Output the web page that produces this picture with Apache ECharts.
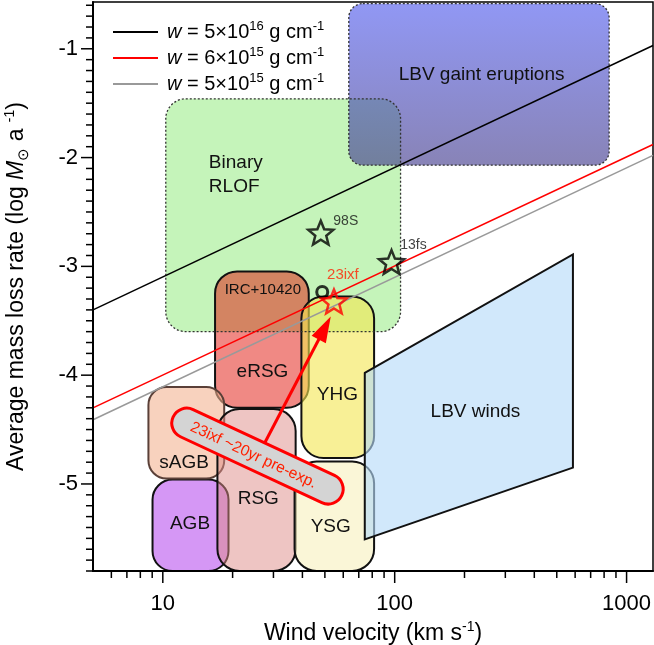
<!DOCTYPE html>
<html><head><meta charset="utf-8">
<script src="https://cdn.jsdelivr.net/npm/echarts@6/dist/echarts.min.js"></script>
<style>html,body{margin:0;padding:0;background:#fff}#c{width:654px;height:645px}</style>
</head><body><div id="c"></div>
<script>
const FONT = '"Liberation Sans", Arial, sans-serif';
const X_MIN = 5, X_MAX = 1300, Y_MIN = -5.8, Y_MAX = -0.57;

// constant-w lines (two endpoints)
const lineNames = ['w5e16', 'w6e15', 'w5e15'];
const lineColors = ['#000000', '#ff0000', '#999999'];
const lineX = [5, 1300];
const lineBlack = [-3.40, -0.97];
const lineRed = [-4.30, -1.88];
const lineGray = [-4.41, -1.98];

// regions: [xLow, xHigh], [yLow, yHigh]
const regionNames = ['Binary RLOF', 'LBV gaint eruptions', 'eRSG', 'YHG', 'AGB', 'sAGB', 'RSG', 'YSG'];
const regionX = [[10.3, 106], [63.4, 841], [16.8, 42.6], [39.6, 81.5], [9.03, 19.2], [8.67, 18.4], [17.2, 37.4], [37.0, 81.5]];
const regionY = [[-3.6, -1.46], [-2.07, -0.585], [-4.30, -3.046], [-4.762, -3.276], [-5.80, -4.96], [-4.95, -4.109], [-5.80, -4.311], [-5.80, -4.793]];

// LBV winds polygon
const lbvWindsX = [74.3, 587, 587, 74.3];
const lbvWindsY = [-3.98, -2.89, -4.85, -5.51];

// region labels
const labelTexts = ['Binary\nRLOF', 'LBV gaint eruptions', 'IRC+10420', 'eRSG', 'YHG', 'LBV winds', 'sAGB', 'AGB', 'RSG', 'YSG'];
const labelX = [15.8, 237, 27, 26.9, 56.6, 223, 12.35, 13.1, 25.8, 53];
const labelY = [-2.157, -1.237, -3.214, -3.966, -4.18, -4.333, -4.808, -5.366, -5.139, -5.39];

// supernova progenitors
const starNames = ['98S', '13fs'];
const starX = [48.0, 96.9];
const starY = [-2.69, -2.96];
const sn23ixf = [54.7, -3.322];
const ircPoint = [48.7, -3.235];
const arrowFrom = [26.9, -4.663];
const arrowTo = [53.0, -3.46];
const noteCenter = [25.6, -4.744];
const noteText = '23ixf ~20yr pre-exp.';

// ticks
const xMajor = [10, 100, 1000];
const xMinor = [6, 7, 8, 9, 20, 30, 40, 50, 60, 70, 80, 90, 200, 300, 400, 500, 600, 700, 800, 900];
const yMajor = [-5, -4, -3, -2, -1];
const yMinor = [];
for (let k = -58; k <= -6; k++) { if (k % 10 !== 0) yMinor.push(k / 10); }

const regionStyles = [
  { fill: 'rgba(150,235,130,0.55)', stroke: null, lw: 0, r: 20 },
  { fill: { type: 'linear', x: 0, y: 0, x2: 0, y2: 1, colorStops: [{ offset: 0, color: 'rgba(77,88,238,0.62)' }, { offset: 1, color: 'rgba(63,55,138,0.62)' }] }, stroke: '#333', dash: [2, 2], lw: 1.3, r: 14 },
  { fill: 'rgba(225,20,10,0.5)', stroke: '#111', lw: 2, r: 22 },
  { fill: 'rgba(243,230,80,0.6)', stroke: '#111', lw: 2, r: 22 },
  { fill: 'rgba(202,125,242,0.8)', stroke: '#111', lw: 2, r: 20 },
  { fill: 'rgba(243,180,147,0.6)', stroke: '#5a4038', lw: 2, r: 18 },
  { fill: 'rgba(221,139,135,0.5)', stroke: '#111', lw: 2, r: 22 },
  { fill: 'rgba(246,240,188,0.6)', stroke: '#111', lw: 2, r: 22 }
];

const STAR = 'path://M50,0 L62.93,32.2 L97.55,34.55 L70.92,56.8 L79.39,90.45 L50,72 L20.61,90.45 L29.08,56.8 L2.45,34.55 L37.07,32.2 Z';

const tickData = [];
xMajor.forEach(v => tickData.push([v, Y_MIN, 0]));
xMinor.forEach(v => tickData.push([v, Y_MIN, 1]));
yMajor.forEach(v => tickData.push([X_MIN, v, 2]));
yMinor.forEach(v => tickData.push([X_MIN, v, 3]));

function rectFor(api, i) {
  const p1 = api.coord([regionX[i][0], regionY[i][1]]);
  const p2 = api.coord([regionX[i][1], regionY[i][0]]);
  return { x: p1[0], y: p1[1], width: p2[0] - p1[0], height: p2[1] - p1[1] };
}

const chart = echarts.init(document.getElementById('c'), null, { renderer: 'canvas' });

const rich = {
  i: { fontStyle: 'italic', fontFamily: FONT, fontSize: 20, lineHeight: 24 },
  s: { fontFamily: FONT, fontSize: 13, verticalAlign: 'top', lineHeight: 13 }
};
const legendLabels = {
  w5e16: '{i|w} = 5×10{s|16} g cm{s|-1}',
  w6e15: '{i|w} = 6×10{s|15} g cm{s|-1}',
  w5e15: '{i|w} = 5×10{s|15} g cm{s|-1}'
};

const option = {
  animation: false,
  backgroundColor: '#fff',
  textStyle: { fontFamily: FONT },
  grid: { left: 93, right: 1, top: 2, bottom: 74, show: true, borderColor: '#000', borderWidth: 1.5, backgroundColor: 'transparent', containLabel: false, outerBoundsMode: 'none' },
  legend: {
    left: 108, top: 15, orient: 'vertical', itemWidth: 45, itemHeight: 2, itemGap: 2,
    icon: 'rect',
    data: lineNames,
    formatter: n => legendLabels[n],
    textStyle: { fontFamily: FONT, fontSize: 20, lineHeight: 24, color: '#000', padding: [0, 0, 0, 4], rich: rich }
  },
  xAxis: {
    type: 'log', logBase: 10, min: X_MIN, max: X_MAX, z: 10,
    axisLine: { lineStyle: { color: '#000', width: 2 } },
    axisTick: { show: false },
    splitLine: { show: false },
    axisLabel: { color: '#000', fontSize: 22, fontFamily: FONT, margin: 22, showMinLabel: false, showMaxLabel: false, formatter: v => String(Math.round(v)) },
    name: 'Wind velocity (km s{s|-1})',
    nameLocation: 'middle', nameGap: 46,
    nameTextStyle: { color: '#000', fontSize: 23, fontFamily: FONT, lineHeight: 28, rich: { s: { fontSize: 14, verticalAlign: 'top', lineHeight: 14, fontFamily: FONT } } }
  },
  yAxis: {
    type: 'value', min: Y_MIN, max: Y_MAX, interval: 0.1, z: 10,
    axisLine: { lineStyle: { color: '#000', width: 2 } },
    axisTick: { show: false },
    splitLine: { show: false },
    axisLabel: {
      color: '#000', fontSize: 22, fontFamily: FONT, margin: 15, showMinLabel: false, showMaxLabel: false,
      formatter: v => (Math.abs(v - Math.round(v)) < 1e-6 ? String(Math.round(v)) : '')
    },
    name: 'Average mass loss rate (log {i|M}{b|⊙} a {s|-1})',
    nameLocation: 'middle', nameGap: 62,
    nameTextStyle: {
      color: '#000', fontSize: 23, fontFamily: FONT, lineHeight: 28,
      rich: {
        i: { fontStyle: 'italic', fontSize: 23, fontFamily: FONT, lineHeight: 28 },
        b: { fontSize: 15, verticalAlign: 'bottom', lineHeight: 15, fontFamily: FONT },
        s: { fontSize: 14, verticalAlign: 'top', lineHeight: 14, fontFamily: FONT }
      }
    }
  },
  series: [
    {
      type: 'custom', name: 'regions', z: 2,
      data: regionNames.map((n, i) => [regionX[i][0], regionY[i][0], i]),
      renderItem: (params, api) => {
        const i = api.value(2);
        const st = regionStyles[i];
        const sh = rectFor(api, i);
        sh.r = st.r;
        return { type: 'rect', shape: sh, style: { fill: st.fill, stroke: st.stroke, lineWidth: st.lw, lineDash: st.dash || null } };
      }
    },
    {
      type: 'custom', name: 'lbvWinds', z: 2,
      data: [[lbvWindsX[0], lbvWindsY[0]]],
      renderItem: (params, api) => {
        const pts = lbvWindsX.map((x, k) => api.coord([x, lbvWindsY[k]]));
        return { type: 'polygon', shape: { points: pts }, style: { fill: 'rgba(180,218,248,0.62)', stroke: '#111', lineWidth: 2 } };
      }
    },
    {
      type: 'custom', name: 'rlofOutline', z: 3,
      data: [[regionX[0][0], regionY[0][0], 0]],
      renderItem: (params, api) => {
        const sh = rectFor(api, 0);
        sh.r = regionStyles[0].r;
        return { type: 'rect', shape: sh, style: { fill: null, stroke: '#333', lineWidth: 1.3, lineDash: [2, 2] } };
      }
    },
    {
      type: 'custom', name: 'regionLabels', z: 4,
      data: labelTexts.map((t, i) => [labelX[i], labelY[i], i]),
      renderItem: (params, api) => {
        const i = api.value(2);
        const p = api.coord([labelX[i], labelY[i]]);
        const small = labelTexts[i] === 'IRC+10420';
        const left = i === 0;
        return {
          type: 'text', x: p[0], y: p[1],
          style: { text: labelTexts[i], fill: '#111', font: (small ? 15 : 19) + 'px ' + FONT, align: left ? 'left' : 'center', verticalAlign: 'middle', lineHeight: 24 }
        };
      }
    },
    { type: 'line', name: lineNames[0], data: lineX.map((x, k) => [x, lineBlack[k]]), symbol: 'none', lineStyle: { color: lineColors[0], width: 1.5 }, itemStyle: { color: lineColors[0] }, z: 5 },
    { type: 'line', name: lineNames[1], data: lineX.map((x, k) => [x, lineRed[k]]), symbol: 'none', lineStyle: { color: lineColors[1], width: 1.5 }, itemStyle: { color: lineColors[1] }, z: 5 },
    { type: 'line', name: lineNames[2], data: lineX.map((x, k) => [x, lineGray[k]]), symbol: 'none', lineStyle: { color: lineColors[2], width: 1.5 }, itemStyle: { color: lineColors[2] }, z: 5 },
    {
      type: 'scatter', name: 'stars', z: 6,
      symbol: STAR, symbolSize: 25, symbolKeepAspect: true,
      itemStyle: { color: 'transparent', borderColor: '#000', borderWidth: 2.5 },
      data: [
        { value: [starX[0], starY[0]], name: starNames[0], label: { offset: [25, -12] } },
        { value: [starX[1], starY[1]], name: starNames[1], label: { offset: [22, -17] } }
      ],
      label: { show: true, position: 'inside', formatter: p => p.name, color: '#111', fontSize: 14, fontFamily: FONT }
    },
    {
      type: 'scatter', name: 'irc', z: 6, symbol: 'circle', symbolSize: 11,
      itemStyle: { color: 'transparent', borderColor: '#000', borderWidth: 3 },
      data: [ircPoint]
    },
    {
      type: 'scatter', name: '23ixf', z: 7,
      symbol: STAR, symbolSize: 25, symbolKeepAspect: true,
      itemStyle: { color: 'transparent', borderColor: '#ff0000', borderWidth: 2.5 },
      data: [{ value: sn23ixf, name: '23ixf' }],
      label: { show: true, position: 'inside', offset: [9, -27], formatter: p => p.name, color: '#ff2000', fontSize: 15, fontFamily: FONT }
    },
    {
      type: 'custom', name: 'annotation', z: 8,
      data: [[noteCenter[0], noteCenter[1]]],
      renderItem: (params, api) => {
        const a = api.coord(arrowFrom);
        const b = api.coord(arrowTo);
        const dx = b[0] - a[0], dy = b[1] - a[1];
        const L = Math.sqrt(dx * dx + dy * dy);
        const ux = dx / L, uy = dy / L;
        const hl = 26, hw = 8;
        const base = [b[0] - ux * hl, b[1] - uy * hl];
        const c = api.coord(noteCenter);
        const ang = -25 * Math.PI / 180;
        return {
          type: 'group',
          children: [
            { type: 'line', shape: { x1: a[0], y1: a[1], x2: base[0] + ux * 2, y2: base[1] + uy * 2 }, style: { stroke: '#ff0000', lineWidth: 3 } },
            { type: 'polygon', shape: { points: [b, [base[0] - uy * hw, base[1] + ux * hw], [base[0] + uy * hw, base[1] - ux * hw]] }, style: { fill: '#ff0000' } },
            {
              type: 'group', x: c[0], y: c[1], rotation: ang,
              children: [
                { type: 'rect', shape: { x: -93, y: -15, width: 186, height: 30, r: 15 }, style: { fill: '#d4d4d4', stroke: '#ff0000', lineWidth: 3 } },
                { type: 'text', x: -4, y: 1, style: { text: noteText, fill: '#ff2000', font: '15.5px ' + FONT, align: 'center', verticalAlign: 'middle' } }
              ]
            }
          ]
        };
      }
    },
    {
      type: 'custom', name: 'ticks', z: 9, clip: false,
      data: tickData,
      renderItem: (params, api) => {
        const k = api.value(2);
        const p = api.coord([api.value(0), api.value(1)]);
        let shape;
        if (k === 0) shape = { x1: p[0], y1: p[1], x2: p[0], y2: p[1] + 12 };
        else if (k === 1) shape = { x1: p[0], y1: p[1], x2: p[0], y2: p[1] + 7 };
        else if (k === 2) shape = { x1: p[0] - 12, y1: p[1], x2: p[0], y2: p[1] };
        else shape = { x1: p[0] - 7, y1: p[1], x2: p[0], y2: p[1] };
        return { type: 'line', shape: shape, style: { stroke: '#000', lineWidth: 1.5 } };
      }
    }
  ]
};
chart.setOption(option);
</script>
</body></html>
